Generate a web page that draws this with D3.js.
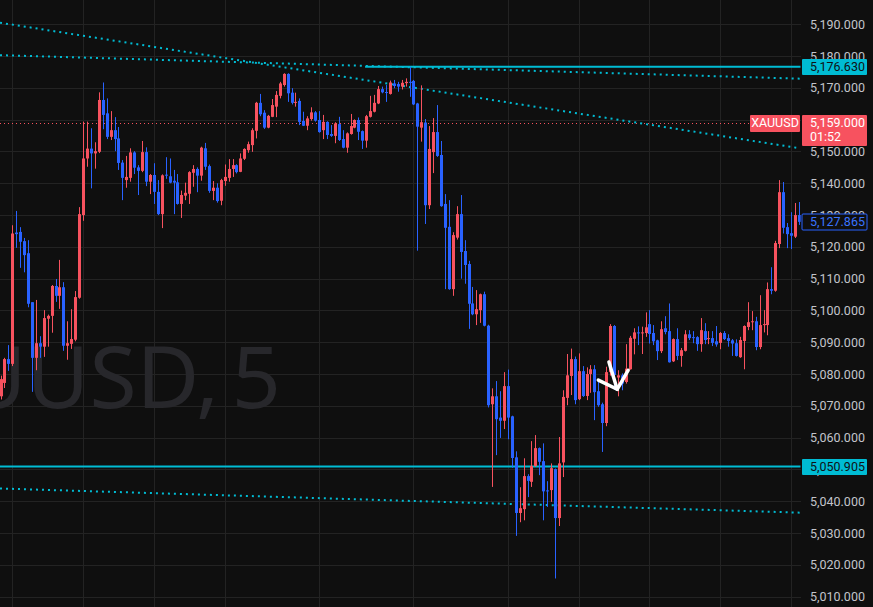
<!DOCTYPE html>
<html>
<head>
<meta charset="utf-8">
<script src="https://cdn.jsdelivr.net/npm/d3@7"></script>
<style>
  body { margin: 0; background: #0f0f0f; }
  svg { display: block; font-family: Roboto, "Noto Sans", sans-serif; }
</style>
</head>
<body>
<svg id="chart" width="873" height="607"></svg>
<script>
// XAUUSD 5m candles, one entry per bar (left -> right)
var opens = [5073.0,5077.2,5084.7,5083.2,5124.5,5124.7,5121.8,5118.0,5102.6,5085.1,5089.7,5088.6,5097.4,5098.3,5107.7,5104.6,5107.3,5088.9,5089.5,5090.8,
  5104.0,5130.0,5147.8,5150.9,5149.4,5149.9,5166.2,5162.0,5154.6,5156.7,5154.1,5146.5,5141.0,5141.7,5149.7,5145.0,5143.9,5149.8,5140.5,5142.6,
  5137.3,5130.3,5142.7,5142.2,5140.8,5140.3,5133.5,5136.1,5136.7,5143.3,5144.5,5142.4,5151.0,5145.4,5137.6,5138.6,5134.5,5140.7,5141.7,5144.5,
  5145.7,5143.6,5147.7,5150.4,5152.0,5156.5,5165.3,5162.2,5157.5,5160.9,5164.1,5167.5,5170.9,5174.4,5168.5,5165.3,5165.9,5159.6,5158.1,5160.2,
  5162.3,5159.9,5156.7,5159.3,5155.5,5154.9,5158.6,5153.9,5151.2,5155.5,5157.5,5159.9,5156.4,5153.4,5160.9,5162.5,5165.1,5169.6,5168.7,5168.1,
  5171.4,5171.2,5170.4,5171.5,5171.9,5172.2,5165.1,5157.5,5159.1,5133.1,5149.8,5156.1,5148.9,5133.5,5126.3,5106.7,5122.9,5130.3,5118.7,5114.6,
  5102.2,5098.8,5100.1,5105.1,5095.2,5070.5,5073.0,5066.3,5065.3,5076.2,5066.7,5053.8,5036.3,5037.5,5047.9,5046.1,5051.1,5056.7,5052.6,5043.4,
  5043.5,5050.1,5034.7,5052.2,5072.5,5079.4,5084.7,5072.1,5080.9,5073.1,5080.0,5081.5,5074.6,5070.5,5064.6,5080.6,5095.1,5078.9,5079.6,5077.5,
  5081.5,5091.1,5093.1,5092.9,5092.9,5095.7,5092.9,5090.6,5087.2,5094.4,5093.5,5084.0,5091.0,5085.7,5087.3,5092.5,5091.6,5091.6,5089.4,5093.5,
  5091.0,5091.3,5090.3,5089.8,5092.9,5091.3,5090.6,5089.7,5085.3,5090.4,5094.8,5096.3,5096.6,5088.5,5095.4,5095.4,5106.7,5106.2,5120.9,5137.2,
  5126.2,5124.3,5123.2,5130.0];
var highs = [5079.5,5085.1,5089.1,5126.8,5131.3,5126.2,5122.8,5122.1,5102.6,5103.3,5091.9,5100.1,5098.7,5108.0,5109.9,5115.9,5108.9,5096.6,5100.4,5106.1,
  5132.5,5159.4,5159.4,5157.3,5152.9,5168.6,5171.7,5166.7,5162.7,5160.8,5157.7,5147.3,5148.6,5151.0,5150.1,5145.7,5153.3,5151.3,5142.9,5146.3,
  5141.0,5142.8,5148.2,5147.8,5144.2,5142.9,5137.7,5140.2,5143.8,5145.7,5145.0,5151.5,5152.7,5145.9,5140.7,5140.0,5141.4,5145.9,5147.6,5147.6,
  5146.0,5149.4,5151.0,5153.1,5157.3,5165.6,5168.1,5163.0,5161.5,5166.5,5169.0,5171.9,5174.6,5174.6,5169.9,5168.5,5166.7,5162.5,5161.1,5163.9,
  5162.7,5162.7,5161.5,5159.5,5158.3,5159.2,5160.9,5156.7,5156.0,5161.8,5160.1,5160.7,5156.6,5161.5,5167.5,5167.8,5170.6,5170.4,5170.9,5172.3,
  5172.5,5171.9,5172.5,5173.0,5176.6,5172.5,5165.3,5170.8,5160.2,5158.0,5160.5,5164.6,5153.3,5136.6,5134.7,5124.6,5132.8,5136.3,5122.1,5115.6,
  5107.4,5106.4,5105.3,5105.9,5095.5,5075.5,5077.8,5074.6,5080.6,5081.4,5066.9,5055.7,5044.4,5053.5,5048.5,5058.9,5060.8,5056.9,5058.2,5046.3,
  5051.9,5050.3,5060.2,5074.9,5086.3,5088.0,5085.5,5086.5,5082.5,5082.1,5082.8,5082.8,5078.1,5071.0,5082.3,5095.7,5095.4,5081.2,5080.2,5089.4,
  5092.0,5094.4,5095.0,5094.9,5099.4,5100.1,5095.4,5090.8,5096.6,5098.2,5102.2,5091.2,5094.4,5088.2,5093.8,5093.8,5093.5,5091.9,5097.6,5096.0,
  5093.5,5093.5,5095.1,5093.2,5093.5,5092.5,5091.0,5090.9,5091.7,5095.3,5102.6,5099.8,5098.0,5104.8,5100.1,5108.8,5113.6,5121.9,5141.0,5140.4,
  5127.5,5130.9,5133.8,5134.1];
var lows = [5072.0,5075.6,5081.0,5082.5,5119.7,5113.4,5112.0,5101.0,5074.4,5081.2,5085.1,5085.4,5088.6,5093.0,5102.7,5100.5,5087.3,5084.5,5087.9,5090.3,
  5103.7,5128.2,5145.2,5138.4,5144.6,5149.5,5157.0,5153.9,5153.6,5150.1,5144.2,5134.7,5138.6,5140.5,5142.9,5136.3,5143.5,5139.1,5136.6,5133.5,
  5130.0,5125.9,5141.4,5140.0,5130.3,5133.3,5129.1,5134.7,5133.5,5138.9,5137.2,5140.8,5144.2,5137.0,5134.7,5133.9,5133.1,5139.2,5140.5,5142.0,
  5143.1,5143.5,5147.3,5149.6,5149.9,5154.1,5161.1,5157.1,5157.3,5160.8,5160.8,5166.7,5170.4,5165.6,5164.8,5164.1,5158.3,5158.0,5156.7,5159.7,
  5159.4,5155.9,5153.9,5153.9,5154.6,5152.6,5153.3,5151.0,5149.6,5155.3,5157.3,5153.6,5150.8,5151.2,5160.7,5162.3,5164.9,5168.3,5165.6,5167.9,
  5169.9,5168.8,5169.5,5170.4,5167.2,5164.6,5118.8,5153.1,5127.2,5131.9,5143.2,5148.3,5132.6,5106.7,5106.5,5104.6,5122.3,5110.0,5108.4,5094.2,
  5098.5,5095.4,5096.1,5095.0,5069.5,5044.5,5054.5,5059.9,5062.7,5059.5,5050.5,5029.1,5033.4,5034.0,5041.3,5044.5,5050.8,5048.2,5034.0,5038.2,
  5039.8,5015.7,5032.2,5047.6,5070.2,5073.4,5070.5,5071.8,5072.8,5071.8,5074.1,5065.5,5069.7,5055.5,5063.6,5079.5,5075.0,5073.0,5074.9,5077.0,
  5081.4,5086.2,5089.1,5086.3,5091.7,5089.6,5089.1,5084.4,5086.6,5092.5,5083.6,5083.8,5084.4,5082.3,5087.1,5090.7,5089.7,5087.3,5087.0,5089.4,
  5089.4,5088.8,5088.6,5087.8,5090.7,5088.6,5085.7,5085.5,5085.1,5081.5,5093.8,5093.8,5087.5,5087.8,5093.1,5092.2,5105.1,5105.9,5119.6,5124.2,
  5119.6,5119.3,5122.8,5126.9];
var closes = [5078.4,5084.7,5083.2,5124.2,5124.0,5121.6,5117.4,5102.1,5085.1,5089.7,5088.6,5097.6,5098.3,5107.7,5104.6,5107.3,5088.9,5089.7,5091.0,5104.2,
  5130.3,5147.8,5150.9,5149.4,5150.1,5166.2,5161.5,5154.6,5156.7,5153.9,5146.4,5141.7,5142.0,5149.7,5144.9,5143.9,5149.8,5140.5,5142.6,5137.3,
  5130.3,5142.5,5142.4,5140.2,5140.2,5133.5,5136.3,5137.0,5143.5,5144.5,5142.4,5151.2,5145.2,5137.6,5138.6,5134.4,5141.0,5142.0,5144.5,5145.7,
  5143.5,5147.8,5150.8,5152.3,5156.7,5165.3,5161.7,5157.5,5161.2,5164.6,5167.8,5171.4,5174.4,5168.3,5165.3,5165.6,5159.3,5158.1,5160.4,5162.3,
  5159.7,5156.1,5159.3,5155.2,5154.9,5158.8,5153.6,5151.2,5155.7,5158.0,5159.9,5156.2,5153.4,5161.1,5162.7,5165.3,5169.6,5168.6,5168.5,5171.7,
  5170.6,5170.4,5171.6,5171.9,5171.7,5164.8,5157.8,5159.2,5133.1,5150.8,5156.1,5148.6,5132.8,5126.0,5106.7,5123.7,5130.3,5118.4,5114.3,5102.1,
  5098.8,5100.4,5105.1,5095.2,5070.2,5073.0,5065.8,5065.3,5076.2,5066.3,5053.6,5036.3,5037.8,5047.9,5046.4,5051.1,5056.7,5052.4,5043.1,5043.1,
  5050.4,5034.7,5051.9,5072.8,5079.6,5084.7,5071.8,5080.9,5073.1,5080.0,5081.5,5074.3,5070.2,5064.6,5080.6,5095.1,5079.7,5079.6,5077.0,5081.7,
  5091.4,5093.1,5092.9,5093.1,5094.7,5092.6,5090.3,5087.2,5094.1,5093.2,5083.7,5091.0,5085.7,5087.5,5092.5,5091.3,5091.3,5089.4,5093.8,5090.7,
  5091.3,5089.8,5089.3,5092.9,5091.0,5090.4,5089.6,5085.7,5090.7,5095.1,5096.3,5096.6,5088.5,5095.4,5095.7,5106.7,5106.2,5121.2,5137.2,5126.0,
  5124.0,5123.5,5130.0,5127.865];

var priceTicks = d3.range(5010, 5191, 10);
var gridBars = [3, 21, 39, 57, 81, 105, 129, 147, 165, 183, 201];

// drawn levels and trendlines: [bar, price] endpoints
var levelHigh = 5176.630, levelHighFrom = 92.7;
var levelLow = 5050.905;
var symbolPrice = 5159.000, countdown = '01:52';
var watermark = ['XAUUSD,', '5'];
var trendLines = [
  [[-0.13, 5190.5], [203.3, 5151.0]],
  [[-0.13, 5180.3], [203.3, 5172.9]],
  [[-0.13, 5044.0], [203.3, 5036.4]]
];
var arrowMark = [
  [[152.0, 5078.1], [156.8, 5075.2]],
  [[154.7, 5083.8], [156.8, 5075.2]],
  [[156.8, 5075.2], [159.6, 5081.2]]
];

var svg = d3.select('#chart'),
    W = 873, H = 607, plotW = 800.7;

var x = d3.scaleLinear().domain([0, 203]).range([0.5, 798.9]);
var y = d3.scaleLinear().domain([5010, 5190]).range([596.6, 24.3]);

var upCol = '#f7525f', downCol = '#2962ff', cyan = '#00bcd4';

svg.append('rect').attr('width', W).attr('height', H).attr('fill', '#0f0f0f');

svg.append('defs').append('clipPath').attr('id', 'plot')
  .append('rect').attr('width', plotW).attr('height', H);

// grid
svg.append('g')
    .attr('transform', 'translate(' + plotW + ',0)')
    .call(d3.axisLeft(y).tickValues(priceTicks).tickSize(plotW).tickFormat(''))
    .call(function(g) { g.select('.domain').remove(); })
    .selectAll('line').attr('stroke', '#232323').attr('shape-rendering', 'crispEdges');

svg.append('g')
    .call(d3.axisBottom(x).tickValues(gridBars).tickSize(H).tickFormat(''))
    .call(function(g) { g.select('.domain').remove(); })
    .selectAll('line').attr('stroke', '#232323').attr('shape-rendering', 'crispEdges');

// watermark (pane is wider than the crop, so it runs off the left edge)
var wm = svg.append('g')
    .attr('text-anchor', 'end')
    .attr('font-family', '"Noto Sans", sans-serif')
    .attr('font-size', 86)
    .attr('fill', '#27272b');
wm.append('text').attr('x', 219).attr('y', 408).text(watermark[0]);
wm.append('text').attr('x', 281).attr('y', 408).text(watermark[1]);

var plot = svg.append('g').attr('clip-path', 'url(#plot)');

// symbol price line
plot.append('line')
    .attr('x1', 0).attr('x2', 750)
    .attr('y1', Math.round(y(symbolPrice)) + 0.5).attr('y2', Math.round(y(symbolPrice)) + 0.5)
    .attr('stroke', upCol).attr('stroke-dasharray', '1,3');

// trend lines
plot.selectAll('line.trend')
  .data(trendLines)
  .enter().append('line')
    .attr('class', 'trend')
    .attr('x1', function(d) { return x(d[0][0]); })
    .attr('y1', function(d) { return y(d[0][1]); })
    .attr('x2', function(d) { return x(d[1][0]); })
    .attr('y2', function(d) { return y(d[1][1]); })
    .attr('stroke', cyan).attr('stroke-width', 2)
    .attr('stroke-dasharray', '2,4');

// horizontal levels
plot.append('line')
    .attr('x1', x(levelHighFrom)).attr('x2', plotW)
    .attr('y1', y(levelHigh)).attr('y2', y(levelHigh))
    .attr('stroke', cyan).attr('stroke-width', 2);
plot.append('line')
    .attr('x1', 0).attr('x2', plotW)
    .attr('y1', y(levelLow)).attr('y2', y(levelLow))
    .attr('stroke', cyan).attr('stroke-width', 2);

// candles
var bars = d3.range(opens.length);
var candle = plot.selectAll('g.candle')
  .data(bars)
  .enter().append('g')
    .attr('class', 'candle')
    .attr('fill', function(i) { return closes[i] >= opens[i] ? upCol : downCol; });

candle.append('rect')
    .attr('x', function(i) { return Math.round(x(i)); })
    .attr('width', 1)
    .attr('y', function(i) { return y(highs[i]); })
    .attr('height', function(i) { return y(lows[i]) - y(highs[i]); });

candle.append('rect')
    .attr('x', function(i) { return Math.round(x(i)) - 1; })
    .attr('width', 3)
    .attr('y', function(i) { return y(Math.max(opens[i], closes[i])); })
    .attr('height', function(i) { return Math.max(1, Math.abs(y(opens[i]) - y(closes[i]))); });

// hand-drawn arrow
plot.selectAll('line.mark')
  .data(arrowMark)
  .enter().append('line')
    .attr('class', 'mark')
    .attr('x1', function(d) { return x(d[0][0]); })
    .attr('y1', function(d) { return y(d[0][1]); })
    .attr('x2', function(d) { return x(d[1][0]); })
    .attr('y2', function(d) { return y(d[1][1]); })
    .attr('stroke', '#ffffff').attr('stroke-width', 3.5)
    .attr('stroke-linecap', 'round');

// price axis
svg.append('g')
    .attr('transform', 'translate(810,0)')
    .call(d3.axisRight(y).tickValues(priceTicks).tickFormat(d3.format(',.3f')).tickSize(0).tickPadding(0))
    .call(function(g) { g.select('.domain').remove(); })
    .selectAll('text')
      .attr('fill', '#c2c4ca')
      .attr('font-size', 12.5)
      .attr('font-family', 'Roboto, sans-serif');

// price labels
function priceTag(price, fill, textCol, stroke) {
  var cy = y(price);
  svg.append('rect')
      .attr('x', 802).attr('y', Math.round(cy) - 8)
      .attr('width', 65).attr('height', 16)
      .attr('fill', fill)
      .attr('stroke', stroke || 'none')
      .attr('rx', 1);
  svg.append('text')
      .attr('x', 810).attr('y', Math.round(cy))
      .attr('dy', '0.35em')
      .attr('font-size', 12.5)
      .attr('fill', textCol)
      .text(d3.format(',.3f')(price));
}
priceTag(levelHigh, cyan, '#0f1115');
priceTag(levelLow, cyan, '#0f1115');
priceTag(closes[closes.length - 1], '#0f0f0f', '#3a74ff', downCol);

// symbol tag with countdown
var sy = Math.round(y(symbolPrice));
svg.append('rect').attr('x', 750).attr('y', sy - 8).attr('width', 50).attr('height', 17).attr('fill', upCol).attr('rx', 1);
svg.append('text').attr('x', 775).attr('y', sy).attr('dy', '0.35em').attr('text-anchor', 'middle')
    .attr('font-size', 12.5).attr('fill', '#fff').text('XAUUSD');
svg.append('rect').attr('x', 802).attr('y', sy - 8).attr('width', 65).attr('height', 31).attr('fill', upCol).attr('rx', 1);
svg.append('text').attr('x', 810).attr('y', sy).attr('dy', '0.35em')
    .attr('font-size', 12.5).attr('fill', '#fff').text(d3.format(',.3f')(symbolPrice));
svg.append('text').attr('x', 810).attr('y', sy + 14).attr('dy', '0.35em')
    .attr('font-size', 12.5).attr('fill', '#fff').text(countdown);
</script>
</body>
</html>
